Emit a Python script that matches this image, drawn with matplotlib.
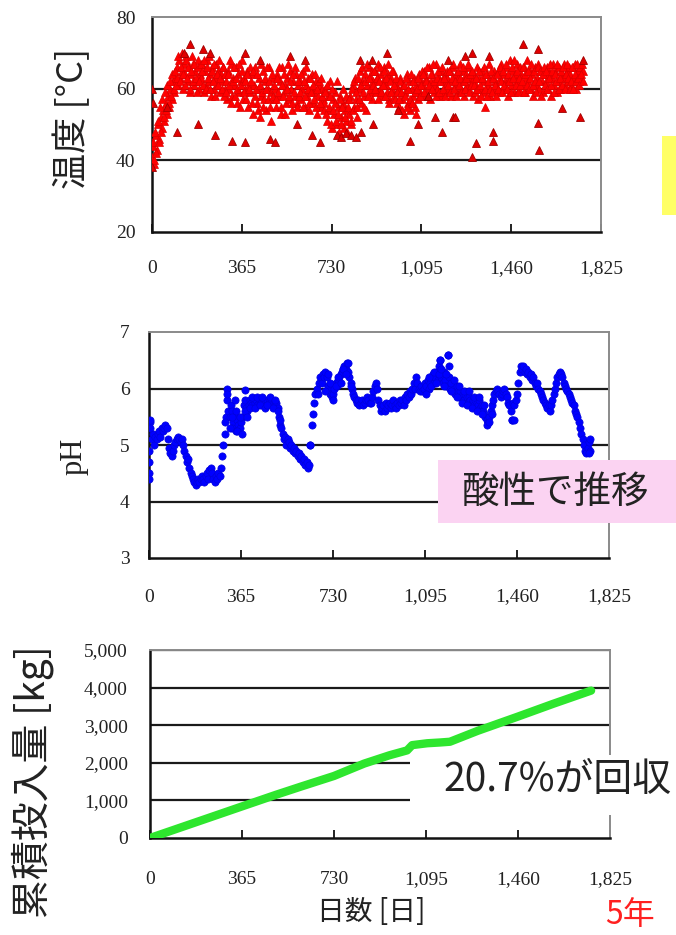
import matplotlib
matplotlib.use('Agg')
import matplotlib.pyplot as plt
import numpy as np
from matplotlib.patches import Rectangle

# ---------------- data ----------------
xtick_vals = [0, 365, 730, 1095, 1460, 1825]
xtick_labels = ['0', '365', '730', '1,095', '1,460', '1,825']

temp_a = [
 41, 44, 39, 47, 43, 50, 46, 52, 49, 54, 51, 56, 53, 58, 55, 60, 57, 62, 59, 63,
 66, 61, 68, 63, 65, 60, 67, 64, 69, 62, 66, 59, 64, 67, 61, 65, 62, 68, 60, 64,
 63, 67, 59, 65, 61, 68, 62, 64, 58, 66, 60, 63, 67, 61, 65, 59, 64, 62, 66, 60,
 62, 57, 65, 60, 67, 58, 63, 61, 66, 56, 64, 59, 62, 68, 57, 63, 60, 65, 55, 61,
 59, 64, 53, 61, 66, 56, 60, 63, 52, 58, 65, 57, 62, 54, 60, 66, 55, 59, 63, 57,
 60, 55, 64, 58, 62, 53, 66, 59, 61, 56, 63, 57, 65, 60, 54, 62, 58, 64, 56, 61,
 62, 57, 60, 65, 55, 61, 58, 63, 54, 60, 64, 56, 59, 62, 53, 58, 61, 55, 60, 57,
 56, 60, 51, 58, 54, 62, 49, 57, 53, 59, 50, 55, 48, 58, 52, 56, 49, 54, 51, 57,
 53, 58, 50, 61, 55, 63, 57, 52, 60, 65, 56, 62, 58, 64, 54, 61, 66, 59, 63, 57,
 62, 65, 59, 63, 67, 60, 64, 58, 62, 66, 61, 59, 64, 57, 63, 60, 65, 58, 61, 56,
 60, 55, 63, 57, 61, 53, 59, 64, 56, 62, 54, 60, 58, 63, 55, 61, 57, 64, 59, 62,
 61, 65, 58, 63, 60, 66, 57, 62, 64, 59, 61, 67, 60, 63, 58, 65, 62, 59, 64, 61,
 63, 60, 65, 58, 62, 66, 61, 64, 59, 63, 67, 60, 62, 65, 58, 64, 61, 66, 60, 63,
 62, 58, 64, 61, 66, 57, 63, 60, 65, 59, 62, 55, 64, 61, 67, 58, 63, 60, 65, 62,
 61, 65, 59, 63, 67, 60, 64, 62, 66, 58, 63, 68, 61, 65, 59, 64, 62, 67, 60, 66,
 64, 61, 66, 59, 63, 68, 62, 65, 60, 64, 58, 66, 61, 63, 67, 60, 65, 62, 59, 64,
 62, 66, 60, 64, 58, 63, 67, 61, 65, 59, 62, 66, 60, 64, 63, 67, 61, 65, 62, 66,
 64, 61, 66, 63, 67, 60, 65, 62, 66, 63, 65]

temp_b = [
 45, 40, 48, 42, 51, 45, 55, 48, 57, 52, 59, 54, 61, 56, 62, 58, 64, 60, 65, 61,
 63, 69, 62, 66, 70, 64, 61, 68, 63, 66, 60, 65, 69, 62, 67, 63, 59, 66, 62, 67,
 65, 61, 68, 60, 66, 63, 69, 60, 65, 62, 67, 58, 64, 61, 68, 63, 60, 66, 58, 64,
 59, 64, 61, 68, 56, 62, 66, 58, 63, 60, 67, 55, 61, 65, 59, 62, 57, 64, 60, 66,
 62, 56, 65, 58, 60, 64, 54, 61, 67, 59, 55, 63, 60, 66, 57, 62, 51, 64, 58, 61,
 57, 63, 59, 66, 55, 61, 58, 64, 53, 60, 67, 58, 62, 56, 64, 59, 66, 55, 62, 58,
 59, 64, 55, 62, 58, 66, 60, 56, 63, 59, 61, 57, 64, 55, 60, 62, 56, 63, 58, 54,
 59, 53, 61, 55, 58, 50, 60, 54, 56, 51, 62, 53, 57, 50, 55, 60, 52, 58, 48, 55,
 57, 51, 60, 54, 62, 59, 55, 63, 57, 61, 66, 59, 55, 62, 67, 58, 63, 60, 65, 61,
 65, 60, 63, 57, 62, 66, 59, 61, 65, 58, 63, 67, 56, 62, 59, 65, 61, 57, 63, 59,
 57, 62, 59, 54, 61, 58, 63, 55, 60, 57, 64, 56, 62, 59, 53, 60, 63, 58, 61, 65,
 64, 59, 62, 66, 58, 61, 64, 60, 67, 62, 58, 63, 65, 59, 62, 66, 60, 63, 58, 65,
 61, 65, 59, 63, 67, 60, 62, 58, 65, 61, 63, 59, 66, 62, 60, 63, 67, 59, 64, 61,
 65, 61, 59, 63, 60, 65, 61, 58, 63, 66, 60, 64, 58, 62, 60, 65, 59, 63, 61, 58,
 64, 60, 66, 62, 59, 65, 61, 67, 60, 64, 62, 59, 66, 63, 68, 61, 65, 59, 63, 61,
 62, 66, 59, 64, 61, 65, 60, 63, 67, 61, 65, 62, 59, 66, 62, 65, 58, 64, 66, 61,
 65, 60, 63, 67, 61, 65, 59, 64, 62, 67, 60, 63, 65, 61, 66, 60, 64, 67, 63, 60,
 62, 66, 60, 64, 62, 67, 63, 61, 64, 67, 62]

temp_out_days = [0, 0, 3, 60, 102, 130, 154, 187, 207, 236, 256, 325, 378, 378,
                 439, 480, 500, 561, 590, 622, 650, 683, 750, 770, 790, 810, 830,
                 850, 846, 894, 900, 955, 1000, 1049, 1080, 1120, 1150, 1179, 1203,
                 1224, 1232, 1272, 1300, 1300, 1317, 1370, 1386, 1386, 1508, 1569,
                 1569, 1573, 1667, 1740, 1752]
temp_out_vals = [60, 38, 56, 55, 48, 70, 72.5, 50, 71, 70, 47, 45.5, 45, 70,
                 68, 46, 45, 69, 50, 68, 47, 45, 47, 46.5, 47.5, 47, 46.5,
                 48, 68, 68, 50, 70, 54, 45.5, 50, 58, 52, 48, 68,
                 52, 52, 69, 70, 40.8, 44.7, 69, 48, 45.5, 72.5, 71,
                 50.5, 42.8, 54.7, 52, 68]

ph_vals = [
 4.5, 5.4, 5.1, 5.2, 5.0, 5.15, 5.1, 5.2, 5.25, 5.15, 5.3, 5.25, 5.3, 5.35, 5.3, 5.1, 4.95, 4.85, 4.8, 4.9,
 5.0, 5.05, 5.1, 5.15, 5.1, 5.05, 5.1, 5.0, 4.9, 4.8, 4.7, 4.75, 4.6, 4.5, 4.45, 4.4, 4.35, 4.3, 4.35, 4.4,
 4.35, 4.4, 4.45, 4.4, 4.35, 4.45, 4.5, 4.4, 4.55, 4.6, 4.5, 4.4, 4.35, 4.45, 4.4, 4.5, 4.45, 4.6, 4.8, 5.0,
 5.2, 5.5, 5.8, 5.6, 5.5, 5.7, 5.6, 5.4, 5.5, 5.6, 5.45, 5.35, 5.3, 5.4, 5.5, 5.7, 5.8, 5.65, 5.6, 5.7,
 5.8, 5.75, 5.7, 5.8, 5.75, 5.8, 5.7, 5.75, 5.8, 5.75, 5.7, 5.8, 5.75, 5.7, 5.8, 5.75, 5.8, 5.75, 5.7, 5.75,
 5.7, 5.75, 5.65, 5.5, 5.35, 5.3, 5.2, 5.1, 5.15, 5.0, 5.1, 5.05, 4.95, 5.0, 4.9, 4.95, 4.85, 4.9, 4.8, 4.85,
 4.75, 4.8, 4.7, 4.75, 4.65, 4.7, 4.6, 4.65, 5.0, 5.35, 5.55, 5.75, 5.9, 6.0, 5.9, 6.1, 6.2, 6.1, 6.25, 6.2,
 6.3, 6.2, 6.05, 5.95, 5.9, 5.85, 5.9, 6.0, 6.1, 6.05, 6.15, 6.2, 6.25, 6.3, 6.35, 6.4, 6.35, 6.45, 6.3, 6.2,
 6.1, 6.0, 5.9, 5.85, 5.8, 5.75, 5.8, 5.7, 5.75, 5.8, 5.7, 5.75, 5.8, 5.85, 5.8, 5.75, 5.75, 5.85, 5.95, 6.05,
 6.1, 6.0, 5.8, 5.7, 5.6, 5.65, 5.7, 5.6, 5.75, 5.65, 5.7, 5.75, 5.65, 5.7, 5.8, 5.7, 5.65, 5.75, 5.7, 5.8,
 5.75, 5.8, 5.7, 5.85, 5.8, 5.9, 5.85, 5.95, 5.9, 6.0, 6.1, 6.0, 6.2, 6.1, 6.0, 5.95, 6.05, 5.95, 6.0, 6.1,
 6.05, 6.15, 6.0, 6.1, 6.2, 6.25, 6.1, 6.2, 6.3, 6.15, 6.4, 6.5, 6.2, 6.1, 6.3, 6.15, 6.05, 6.6, 6.2, 6.0,
 6.1, 5.95, 6.0, 5.9, 6.05, 5.95, 5.85, 5.95, 5.85, 5.9, 5.8, 5.9, 5.85, 5.75, 5.85, 5.8, 5.75, 5.8, 5.7, 5.8,
 5.75, 5.7, 5.8, 5.65, 5.7, 5.6, 5.55, 5.5, 5.45, 5.4, 5.5, 5.6, 5.7, 5.8, 5.9, 5.95, 6.0, 5.95, 5.9, 5.85,
 5.9, 5.95, 6.0, 5.9, 5.85, 5.75, 5.7, 5.6, 5.45, 5.75, 5.7, 5.8, 5.9, 6.1, 6.3, 6.4, 6.35, 6.4, 6.3, 6.35,
 6.25, 6.3, 6.2, 6.25, 6.15, 6.2, 6.1, 6.05, 6.1, 6.0, 5.95, 5.9, 5.85, 5.8, 5.75, 5.7, 5.65, 5.7, 5.6, 5.7,
 5.8, 5.9, 6.0, 6.1, 6.2, 6.25, 6.3, 6.25, 6.2, 6.1, 6.05, 6.0, 5.95, 5.9, 5.85, 5.8, 5.75, 5.7, 5.6, 5.55,
 5.5, 5.4, 5.3, 5.2, 5.1, 5.0, 4.9, 4.85, 4.95, 5.05, 4.9]

ph_extra_days = [0, 0, 0, 2, 2, 310, 330, 345, 380, 1155, 1185, 1440, 1448, 640, 1745, 1750,
                 300, 310, 320, 330, 340, 350, 360, 370, 380, 390, 400, 410, 420, 430,
                 440, 450, 460, 470, 480, 490, 500, 510, 520,
                 700, 710, 720, 730, 740, 750, 760, 770, 780, 790, 800,
                 1100, 1110, 1120, 1130, 1140, 1150, 1160, 1170, 1180, 1190, 1200, 1210,
                 1220, 1230, 1240, 1250, 1260, 1270, 1280, 1290, 1300, 1310, 1320, 1330,
                 1340, 1350, 1360]
ph_extra_vals = [4.4, 4.7, 4.9, 5.3, 5.45, 6.0, 5.3, 5.25, 5.98, 6.5, 6.6, 5.44, 5.44, 5.0, 4.85, 5.1,
                 5.4, 5.9, 5.3, 5.5, 5.8, 5.25, 5.5, 5.2, 5.6, 5.5, 5.65, 5.85, 5.65, 5.85,
                 5.7, 5.85, 5.65, 5.7, 5.85, 5.65, 5.8, 5.6, 5.45,
                 5.95, 6.25, 6.1, 5.8, 6.05, 6.2, 6.1, 6.35, 6.25, 6.45, 6.05,
                 5.9, 6.2, 6.05, 6.3, 6.1, 6.25, 6.35, 6.05, 6.25, 6.4, 5.95, 6.15,
                 5.85, 6.05, 5.75, 5.95, 5.7, 5.95, 5.65, 5.85, 5.6, 5.85, 5.55, 5.7,
                 5.35, 5.4, 5.55]

cum_days = [0, 100, 200, 365, 500, 600, 730, 850, 950, 1020, 1040, 1100, 1150, 1190,
            1300, 1460, 1600, 1750]
cum_vals = [0, 230, 460, 840, 1150, 1370, 1650, 1980, 2200, 2330, 2470, 2520, 2540, 2560,
            2850, 3230, 3570, 3920]

temp_days_a = np.arange(len(temp_a)) * 5
temp_days_b = np.arange(len(temp_b)) * 5 + 2.5
ph_days = np.arange(len(ph_vals)) * 5

# ---------------- layout ----------------
W, H = 676, 935
fig = plt.figure(figsize=(W / 100, H / 100), dpi=100)
CJK = ['Noto Sans CJK JP', 'DejaVu Sans']
SERIF = ['Liberation Serif', 'DejaVu Serif']


def rect(l, t, r, b):
    return [l / W, 1 - b / H, (r - l) / W, (b - t) / H]


def style(ax, ylim, yticks, grid, padx, pady, fmt=None):
    ax.set_xlim(0, 1825)
    ax.set_ylim(*ylim)
    ax.set_xticks(xtick_vals)
    ax.set_xticklabels(xtick_labels)
    ax.set_yticks(yticks)
    if fmt:
        ax.set_yticklabels([fmt(v) for v in yticks])
    for g in grid:
        ax.axhline(g, color='#1a1a1a', lw=1.6, zorder=1)
    ax.tick_params(axis='x', direction='in', length=6, width=1.4, pad=padx,
                   labelsize=14, colors='#222222')
    ax.tick_params(axis='y', length=0, pad=pady, labelsize=14, colors='#222222')
    for lab in ax.get_xticklabels() + ax.get_yticklabels():
        lab.set_fontfamily(SERIF)
    for s in ['left', 'bottom']:
        ax.spines[s].set_color('#111111')
        ax.spines[s].set_linewidth(1.8)
    for s in ['top', 'right']:
        ax.spines[s].set_color('#8a8a8a')
        ax.spines[s].set_linewidth(1.4)


# Temperature
ax1 = fig.add_axes(rect(152, 17, 601, 232))
style(ax1, (20, 80), [20, 40, 60, 80], [40, 60], 20, 12)
kw = dict(ls='none', marker='^', ms=5.4, mfc='#ff0000', mec='#dd0000', mew=0.5, zorder=3)
ax1.plot(temp_days_a, temp_a, **kw)
ax1.plot(temp_days_b, temp_b, **kw)
ax1.plot(temp_out_days, temp_out_vals, ls='none', marker='^', ms=5.2, mfc='#e00000',
         mec='#a00000', mew=0.6, zorder=3)

# pH
ax2 = fig.add_axes(rect(149, 332, 609, 558))
style(ax2, (3, 7), [3, 4, 5, 6, 7], [4, 5, 6], 22, 14)
ax2.plot(ph_days, ph_vals, ls='none', marker='o', ms=5.2, mfc='#0000ff', mec='#0000dd',
         mew=0.5, zorder=3)
ax2.plot(ph_extra_days, ph_extra_vals, ls='none', marker='o', ms=5.2, mfc='#0000ff',
         mec='#0000dd', mew=0.5, zorder=3)

# Cumulative
ax3 = fig.add_axes(rect(150, 650, 610, 838))
style(ax3, (0, 5000), [0, 1000, 2000, 3000, 4000, 5000], [1000, 2000, 3000, 4000, 5000],
      24, 16, fmt=lambda v: f'{v:,}')
ax3.plot(cum_days, cum_vals, color='#2ee62e', lw=6, solid_capstyle='round',
         solid_joinstyle='round', zorder=3)

# ---------------- labels ----------------
fig.text(72 / W, 1 - 118 / H, '温度 [°C]', rotation=90, ha='center', va='center',
         fontsize=26, family=CJK, color='#222222')
fig.text(74 / W, 1 - 456 / H, 'pH', rotation=90, ha='center', va='center',
         fontsize=22, family=SERIF, color='#222222')
fig.text(33 / W, 1 - 782 / H, '累積投入量 [kg]', rotation=90, ha='center', va='center',
         fontsize=28, family=CJK, color='#222222')
fig.text(371 / W, 1 - 912 / H, '日数 [日]', ha='center', va='center',
         fontsize=20, family=CJK, color='#222222')
fig.text(630 / W, 1 - 915 / H, '5年', ha='center', va='center',
         fontsize=23, family=CJK, color='#ff2020')

# boxes
fig.add_artist(Rectangle((662 / W, 1 - 215 / H), 14 / W, 79 / H,
                         transform=fig.transFigure, color='#ffff66', lw=0, zorder=5))
fig.add_artist(Rectangle((438 / W, 1 - 523 / H), 238 / W, 63 / H,
                         transform=fig.transFigure, color='#fbd3f2', lw=0, zorder=5))
fig.text(556 / W, 1 - 492 / H, '酸性で推移', ha='center', va='center',
         fontsize=27, family=CJK, color='#222222', zorder=6)
fig.add_artist(Rectangle((410 / W, 1 - 815 / H), 266 / W, 60 / H,
                         transform=fig.transFigure, color='white', lw=0, zorder=5))
fig.text(557 / W, 1 - 780 / H, '20.7%が回収', ha='center', va='center',
         fontsize=28, family=CJK, color='#222222', zorder=6)

fig.savefig('out.png', dpi=100)
